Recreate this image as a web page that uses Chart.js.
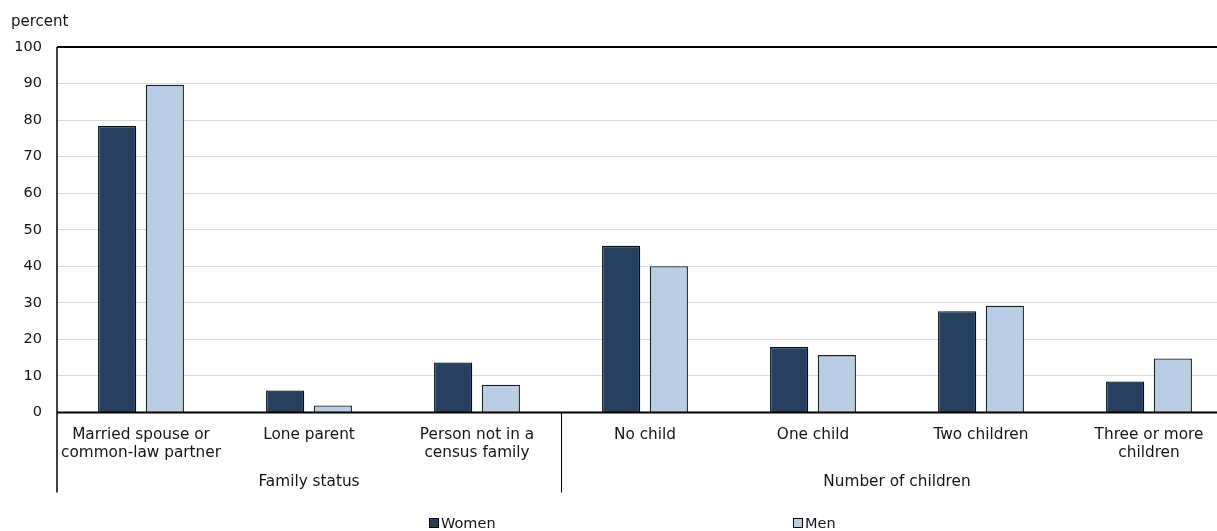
<!DOCTYPE html>
<html>
<head>
<meta charset="utf-8">
<script src="https://cdn.jsdelivr.net/npm/chart.js@4/dist/chart.umd.min.js"></script>
<style>
  html, body { margin: 0; padding: 0; background: #fff; overflow: hidden; }
  #wrap { width: 1217px; height: 531px; overflow: hidden; position: relative; }
  canvas { display: block; }
</style>
</head>
<body>
<div id="wrap"><canvas id="chart" width="1240" height="531"></canvas></div>
<script>
// Categories (multi-line labels) and the groups they belong to
const categories = [
  ["Married spouse or", "common-law partner"],
  "Lone parent",
  ["Person not in a", "census family"],
  "No child",
  "One child",
  "Two children",
  ["Three or more", "children"]
];
const groupNames = ["Family status", "Number of children"];
const groupSizes = [3, 4];

// Percent of workers, by sex
const women = [78.4, 6.0, 13.7, 45.6, 17.9, 27.7, 8.5];
const men   = [89.7, 1.9, 7.6, 40.0, 15.7, 29.2, 14.8];

const seriesNames = ["Women", "Men"];
const yTicks = [0, 10, 20, 30, 40, 50, 60, 70, 80, 90, 100];

const FONT = "'DejaVu Sans', Verdana, sans-serif";
const TICK_SIZE = 14.5;
const LABEL_SIZE = 15.3;
const TEXT = "#141414";
const WOMEN_COLOR = "#26405f";
const MEN_COLOR = "#b9cde5";

// Axis unit, group labels, separators and legend
const decorations = {
  id: "decorations",
  afterDatasetsDraw(chart) {
    const { ctx, chartArea: a, scales: { x } } = chart;
    ctx.save();
    // unit label
    ctx.fillStyle = TEXT;
    ctx.font = "15px " + FONT;
    ctx.textAlign = "left";
    ctx.textBaseline = "middle";
    ctx.fillText("percent", 11, a.top - 25);

    // baseline
    ctx.strokeStyle = "#000";
    ctx.lineWidth = 2;
    ctx.beginPath();
    ctx.moveTo(a.left, a.bottom);
    ctx.lineTo(a.right, a.bottom);
    ctx.stroke();

    // left axis line, running down through the category area
    const sepBottom = a.bottom + 80;
    ctx.lineWidth = 1.5;
    ctx.beginPath();
    ctx.moveTo(a.left, a.top);
    ctx.lineTo(a.left, sepBottom);
    ctx.stroke();

    // group separators and group labels
    ctx.font = LABEL_SIZE + "px " + FONT;
    let start = 0;
    let leftEdge = a.left;
    const step = x.getPixelForValue(1) - x.getPixelForValue(0);
    groupSizes.forEach((n, gi) => {
      const last = start + n - 1;
      const rightEdge = x.getPixelForValue(last) + step / 2;
      if (gi < groupSizes.length - 1) {
        ctx.lineWidth = 1;
        ctx.strokeStyle = "#000";
        ctx.beginPath();
        ctx.moveTo(Math.round(rightEdge) + 0.5, a.bottom);
        ctx.lineTo(Math.round(rightEdge) + 0.5, sepBottom);
        ctx.stroke();
      }
      ctx.fillStyle = TEXT;
      ctx.textAlign = "center";
      ctx.fillText(groupNames[gi], (leftEdge + rightEdge) / 2, a.bottom + 70);
      leftEdge = rightEdge;
      start += n;
    });

    // legend
    ctx.font = TICK_SIZE + "px " + FONT;
    const legendY = 524;
    const legendX = [429, 793];
    const colors = [WOMEN_COLOR, MEN_COLOR];
    chart.data.datasets.forEach((ds, i) => {
      ctx.fillStyle = colors[i];
      ctx.strokeStyle = "#000";
      ctx.lineWidth = 1;
      ctx.fillRect(legendX[i] + 0.5, legendY - 5.5, 9, 9);
      ctx.strokeRect(legendX[i] + 0.5, legendY - 5.5, 9, 9);
      ctx.fillStyle = TEXT;
      ctx.textAlign = "left";
      ctx.fillText(ds.label, legendX[i] + 12, legendY);
    });
    ctx.restore();
  }
};

new Chart(document.getElementById("chart"), {
  type: "bar",
  data: {
    labels: categories,
    datasets: [
      { label: seriesNames[0], data: women, backgroundColor: WOMEN_COLOR, borderColor: "#0a0a0a", borderWidth: 1.3 },
      { label: seriesNames[1], data: men, backgroundColor: MEN_COLOR, borderColor: "#1a1a1a", borderWidth: 1.3 }
    ]
  },
  options: {
    responsive: false,
    animation: false,
    events: [],
    layout: { padding: { top: 47, right: 7, left: 0, bottom: 0 } },
    datasets: { bar: { categoryPercentage: 0.568, barPercentage: 0.8 } },
    plugins: { legend: { display: false }, tooltip: { enabled: false } },
    scales: {
      x: {
        grid: { display: false, drawTicks: false },
        border: { display: false },
        ticks: {
          font: { family: FONT, size: LABEL_SIZE, lineHeight: 1.16 },
          color: TEXT,
          padding: 14,
          maxRotation: 0,
          autoSkip: false
        },
        afterFit(scale) { scale.height = 118.5; }
      },
      y: {
        min: 0,
        max: 100,
        afterBuildTicks(scale) { scale.ticks = yTicks.map(v => ({ value: v })); },
        grid: {
          drawTicks: false,
          color: ctx => (ctx.tick && ctx.tick.value === 100) ? "#000" : (ctx.tick && ctx.tick.value === 0 ? "rgba(0,0,0,0)" : "#d9d9d9"),
          lineWidth: ctx => (ctx.tick && ctx.tick.value === 100) ? 2 : 1
        },
        border: { display: false },
        ticks: {
          font: { family: FONT, size: TICK_SIZE },
          color: TEXT,
          padding: 15
        },
        afterFit(scale) { scale.width = 57; }
      }
    }
  },
  plugins: [decorations]
});
</script>
</body>
</html>
